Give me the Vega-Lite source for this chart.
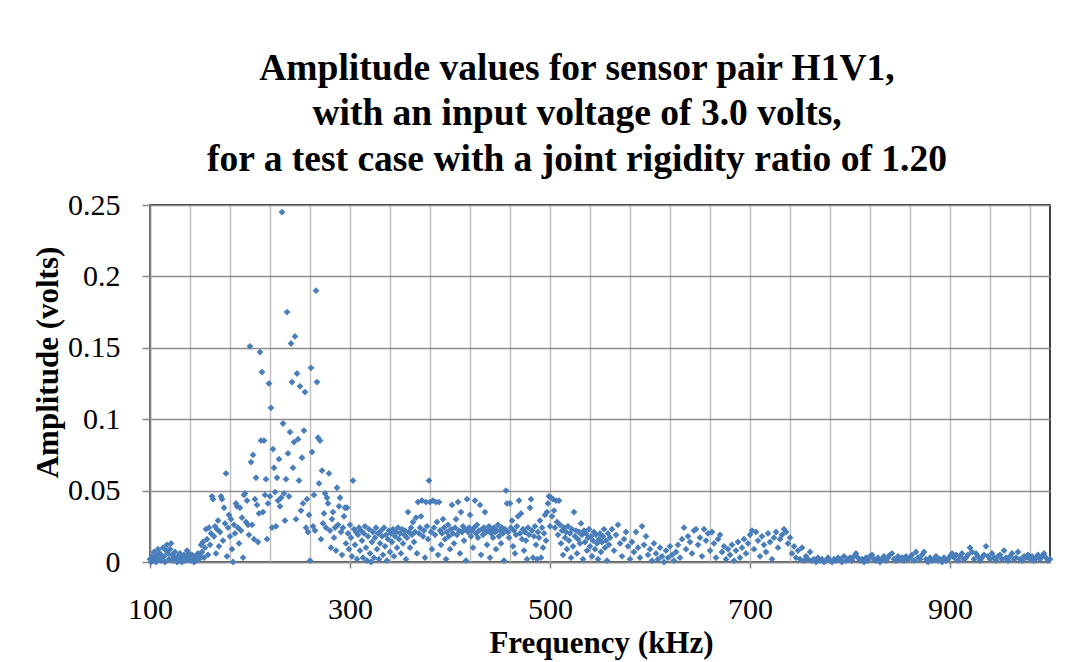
{
  "$schema": "https://vega.github.io/schema/vega-lite/v6.json",
  "autosize": {"type": "none"},
  "width": 900,
  "height": 357,
  "padding": {"left": 150, "top": 205, "right": 42, "bottom": 100},
  "background": "#ffffff",
  "config": {
    "font": "Liberation Serif",
    "view": {"stroke": "#000000", "strokeWidth": 1.5}
  },
  "title": {
    "text": ["Amplitude values for sensor pair H1V1,", "with an input voltage of 3.0 volts,", "for a test case with a joint rigidity ratio of 1.20"],
    "font": "Liberation Serif",
    "fontSize": 37.5,
    "fontWeight": "bold",
    "color": "#000000",
    "lineHeight": 45.5,
    "anchor": "middle",
    "frame": "group",
    "dx": -23,
    "offset": 12
  },
  "data": {"values": [
{"frequency":100,"amplitude":0.002},{"frequency":101,"amplitude":0.000},{"frequency":102,"amplitude":0.004},{"frequency":103,"amplitude":0.001},{"frequency":104,"amplitude":0.007},{"frequency":105,"amplitude":0.003},{"frequency":106,"amplitude":0.000},{"frequency":107,"amplitude":0.005},{"frequency":108,"amplitude":0.009},{"frequency":109,"amplitude":0.002},
{"frequency":110,"amplitude":0.006},{"frequency":111,"amplitude":0.001},{"frequency":112,"amplitude":0.003},{"frequency":113,"amplitude":0.010},{"frequency":114,"amplitude":0.004},{"frequency":115,"amplitude":0.000},{"frequency":116,"amplitude":0.008},{"frequency":117,"amplitude":0.012},{"frequency":118,"amplitude":0.006},{"frequency":119,"amplitude":0.002},
{"frequency":120,"amplitude":0.009},{"frequency":121,"amplitude":0.013},{"frequency":122,"amplitude":0.005},{"frequency":123,"amplitude":0.001},{"frequency":124,"amplitude":0.003},{"frequency":125,"amplitude":0.007},{"frequency":126,"amplitude":0.002},{"frequency":127,"amplitude":0.000},{"frequency":128,"amplitude":0.004},{"frequency":129,"amplitude":0.001},
{"frequency":130,"amplitude":0.006},{"frequency":131,"amplitude":0.003},{"frequency":132,"amplitude":0.000},{"frequency":133,"amplitude":0.002},{"frequency":134,"amplitude":0.005},{"frequency":135,"amplitude":0.001},{"frequency":136,"amplitude":0.004},{"frequency":137,"amplitude":0.008},{"frequency":138,"amplitude":0.002},{"frequency":139,"amplitude":0.006},
{"frequency":140,"amplitude":0.003},{"frequency":141,"amplitude":0.001},{"frequency":142,"amplitude":0.005},{"frequency":143,"amplitude":0.002},{"frequency":144,"amplitude":0.000},{"frequency":145,"amplitude":0.004},{"frequency":146,"amplitude":0.001},{"frequency":147,"amplitude":0.003},{"frequency":148,"amplitude":0.006},{"frequency":149,"amplitude":0.002},
{"frequency":150,"amplitude":0.004},{"frequency":151,"amplitude":0.012},{"frequency":152,"amplitude":0.007},{"frequency":153,"amplitude":0.014},{"frequency":154,"amplitude":0.003},{"frequency":155,"amplitude":0.010},{"frequency":156,"amplitude":0.023},{"frequency":157,"amplitude":0.016},{"frequency":158,"amplitude":0.005},{"frequency":159,"amplitude":0.024},
{"frequency":160,"amplitude":0.012},{"frequency":161,"amplitude":0.020},{"frequency":162,"amplitude":0.046},{"frequency":163,"amplitude":0.044},{"frequency":164,"amplitude":0.018},{"frequency":165,"amplitude":0.025},{"frequency":166,"amplitude":0.006},{"frequency":167,"amplitude":0.023},{"frequency":168,"amplitude":0.029},{"frequency":169,"amplitude":0.011},
{"frequency":170,"amplitude":0.021},{"frequency":171,"amplitude":0.046},{"frequency":172,"amplitude":0.044},{"frequency":173,"amplitude":0.015},{"frequency":174,"amplitude":0.038},{"frequency":175,"amplitude":0.027},{"frequency":176,"amplitude":0.062},{"frequency":177,"amplitude":0.004},{"frequency":178,"amplitude":0.024},{"frequency":179,"amplitude":0.033},
{"frequency":180,"amplitude":0.018},{"frequency":181,"amplitude":0.030},{"frequency":182,"amplitude":0.009},{"frequency":183,"amplitude":0.000},{"frequency":184,"amplitude":0.026},{"frequency":185,"amplitude":0.020},{"frequency":186,"amplitude":0.041},{"frequency":187,"amplitude":0.039},{"frequency":188,"amplitude":0.024},{"frequency":189,"amplitude":0.013},
{"frequency":190,"amplitude":0.038},{"frequency":191,"amplitude":0.022},{"frequency":192,"amplitude":0.031},{"frequency":193,"amplitude":0.003},{"frequency":194,"amplitude":0.047},{"frequency":195,"amplitude":0.048},{"frequency":196,"amplitude":0.028},{"frequency":197,"amplitude":0.043},{"frequency":198,"amplitude":0.026},{"frequency":199,"amplitude":0.019},
{"frequency":200,"amplitude":0.151},{"frequency":201,"amplitude":0.070},{"frequency":202,"amplitude":0.026},{"frequency":203,"amplitude":0.075},{"frequency":204,"amplitude":0.016},{"frequency":205,"amplitude":0.044},{"frequency":206,"amplitude":0.059},{"frequency":207,"amplitude":0.040},{"frequency":208,"amplitude":0.014},{"frequency":209,"amplitude":0.034},
{"frequency":210,"amplitude":0.147},{"frequency":211,"amplitude":0.085},{"frequency":212,"amplitude":0.133},{"frequency":213,"amplitude":0.035},{"frequency":214,"amplitude":0.085},{"frequency":215,"amplitude":0.047},{"frequency":216,"amplitude":0.058},{"frequency":217,"amplitude":0.016},{"frequency":218,"amplitude":0.041},{"frequency":219,"amplitude":0.125},
{"frequency":220,"amplitude":0.046},{"frequency":221,"amplitude":0.108},{"frequency":222,"amplitude":0.024},{"frequency":223,"amplitude":0.079},{"frequency":224,"amplitude":0.066},{"frequency":225,"amplitude":0.049},{"frequency":226,"amplitude":0.025},{"frequency":227,"amplitude":0.059},{"frequency":228,"amplitude":0.043},{"frequency":229,"amplitude":0.072},
{"frequency":230,"amplitude":0.039},{"frequency":231,"amplitude":0.045},{"frequency":232,"amplitude":0.245},{"frequency":233,"amplitude":0.097},{"frequency":234,"amplitude":0.048},{"frequency":235,"amplitude":0.029},{"frequency":236,"amplitude":0.058},{"frequency":237,"amplitude":0.175},{"frequency":238,"amplitude":0.076},{"frequency":239,"amplitude":0.046},
{"frequency":240,"amplitude":0.091},{"frequency":241,"amplitude":0.153},{"frequency":242,"amplitude":0.126},{"frequency":243,"amplitude":0.066},{"frequency":244,"amplitude":0.084},{"frequency":245,"amplitude":0.158},{"frequency":246,"amplitude":0.030},{"frequency":247,"amplitude":0.132},{"frequency":248,"amplitude":0.086},{"frequency":249,"amplitude":0.057},
{"frequency":250,"amplitude":0.123},{"frequency":251,"amplitude":0.036},{"frequency":252,"amplitude":0.073},{"frequency":253,"amplitude":0.041},{"frequency":254,"amplitude":0.092},{"frequency":255,"amplitude":0.119},{"frequency":256,"amplitude":0.024},{"frequency":257,"amplitude":0.044},{"frequency":258,"amplitude":0.021},{"frequency":259,"amplitude":0.033},
{"frequency":260,"amplitude":0.001},{"frequency":261,"amplitude":0.136},{"frequency":262,"amplitude":0.077},{"frequency":263,"amplitude":0.025},{"frequency":264,"amplitude":0.047},{"frequency":265,"amplitude":0.022},{"frequency":266,"amplitude":0.190},{"frequency":267,"amplitude":0.126},{"frequency":268,"amplitude":0.087},{"frequency":269,"amplitude":0.055},
{"frequency":270,"amplitude":0.085},{"frequency":271,"amplitude":0.016},{"frequency":272,"amplitude":0.064},{"frequency":273,"amplitude":0.027},{"frequency":274,"amplitude":0.034},{"frequency":275,"amplitude":0.048},{"frequency":276,"amplitude":0.024},{"frequency":277,"amplitude":0.045},{"frequency":278,"amplitude":0.041},{"frequency":279,"amplitude":0.062},
{"frequency":280,"amplitude":0.022},{"frequency":281,"amplitude":0.010},{"frequency":282,"amplitude":0.030},{"frequency":283,"amplitude":0.035},{"frequency":284,"amplitude":0.017},{"frequency":285,"amplitude":0.024},{"frequency":286,"amplitude":0.008},{"frequency":287,"amplitude":0.052},{"frequency":288,"amplitude":0.026},{"frequency":289,"amplitude":0.039},
{"frequency":290,"amplitude":0.045},{"frequency":291,"amplitude":0.021},{"frequency":292,"amplitude":0.005},{"frequency":293,"amplitude":0.024},{"frequency":294,"amplitude":0.032},{"frequency":295,"amplitude":0.038},{"frequency":296,"amplitude":0.013},{"frequency":297,"amplitude":0.038},{"frequency":298,"amplitude":0.020},{"frequency":299,"amplitude":0.009},
{"frequency":300,"amplitude":0.026},{"frequency":301,"amplitude":0.017},{"frequency":302,"amplitude":0.004},{"frequency":303,"amplitude":0.057},{"frequency":304,"amplitude":0.023},{"frequency":305,"amplitude":0.012},{"frequency":306,"amplitude":0.021},{"frequency":307,"amplitude":0.002},{"frequency":308,"amplitude":0.019},{"frequency":309,"amplitude":0.024},
{"frequency":310,"amplitude":0.008},{"frequency":311,"amplitude":0.022},{"frequency":312,"amplitude":0.015},{"frequency":313,"amplitude":0.003},{"frequency":314,"amplitude":0.020},{"frequency":315,"amplitude":0.025},{"frequency":316,"amplitude":0.010},{"frequency":317,"amplitude":0.001},{"frequency":318,"amplitude":0.018},{"frequency":319,"amplitude":0.023},
{"frequency":320,"amplitude":0.006},{"frequency":321,"amplitude":0.000},{"frequency":322,"amplitude":0.014},{"frequency":323,"amplitude":0.021},{"frequency":324,"amplitude":0.003},{"frequency":325,"amplitude":0.017},{"frequency":326,"amplitude":0.024},{"frequency":327,"amplitude":0.009},{"frequency":328,"amplitude":0.020},{"frequency":329,"amplitude":0.002},
{"frequency":330,"amplitude":0.013},{"frequency":331,"amplitude":0.022},{"frequency":332,"amplitude":0.018},{"frequency":333,"amplitude":0.005},{"frequency":334,"amplitude":0.024},{"frequency":335,"amplitude":0.011},{"frequency":336,"amplitude":0.019},{"frequency":337,"amplitude":0.001},{"frequency":338,"amplitude":0.016},{"frequency":339,"amplitude":0.022},
{"frequency":340,"amplitude":0.007},{"frequency":341,"amplitude":0.020},{"frequency":342,"amplitude":0.014},{"frequency":343,"amplitude":0.023},{"frequency":344,"amplitude":0.004},{"frequency":345,"amplitude":0.018},{"frequency":346,"amplitude":0.021},{"frequency":347,"amplitude":0.010},{"frequency":348,"amplitude":0.024},{"frequency":349,"amplitude":0.016},
{"frequency":350,"amplitude":0.020},{"frequency":351,"amplitude":0.006},{"frequency":352,"amplitude":0.023},{"frequency":353,"amplitude":0.013},{"frequency":354,"amplitude":0.019},{"frequency":355,"amplitude":0.022},{"frequency":356,"amplitude":0.002},{"frequency":357,"amplitude":0.017},{"frequency":358,"amplitude":0.035},{"frequency":359,"amplitude":0.021},
{"frequency":360,"amplitude":0.010},{"frequency":361,"amplitude":0.024},{"frequency":362,"amplitude":0.019},{"frequency":363,"amplitude":0.028},{"frequency":364,"amplitude":0.014},{"frequency":365,"amplitude":0.021},{"frequency":366,"amplitude":0.031},{"frequency":367,"amplitude":0.006},{"frequency":368,"amplitude":0.042},{"frequency":369,"amplitude":0.020},
{"frequency":370,"amplitude":0.024},{"frequency":371,"amplitude":0.032},{"frequency":372,"amplitude":0.043},{"frequency":373,"amplitude":0.018},{"frequency":374,"amplitude":0.022},{"frequency":375,"amplitude":0.003},{"frequency":376,"amplitude":0.042},{"frequency":377,"amplitude":0.025},{"frequency":378,"amplitude":0.016},{"frequency":379,"amplitude":0.057},
{"frequency":380,"amplitude":0.042},{"frequency":381,"amplitude":0.021},{"frequency":382,"amplitude":0.009},{"frequency":383,"amplitude":0.043},{"frequency":384,"amplitude":0.024},{"frequency":385,"amplitude":0.019},{"frequency":386,"amplitude":0.042},{"frequency":387,"amplitude":0.028},{"frequency":388,"amplitude":0.005},{"frequency":389,"amplitude":0.042},
{"frequency":390,"amplitude":0.022},{"frequency":391,"amplitude":0.012},{"frequency":392,"amplitude":0.020},{"frequency":393,"amplitude":0.030},{"frequency":394,"amplitude":0.024},{"frequency":395,"amplitude":0.016},{"frequency":396,"amplitude":0.002},{"frequency":397,"amplitude":0.021},{"frequency":398,"amplitude":0.026},{"frequency":399,"amplitude":0.018},
{"frequency":400,"amplitude":0.009},{"frequency":401,"amplitude":0.023},{"frequency":402,"amplitude":0.040},{"frequency":403,"amplitude":0.020},{"frequency":404,"amplitude":0.013},{"frequency":405,"amplitude":0.024},{"frequency":406,"amplitude":0.030},{"frequency":407,"amplitude":0.019},{"frequency":408,"amplitude":0.042},{"frequency":409,"amplitude":0.022},
{"frequency":410,"amplitude":0.006},{"frequency":411,"amplitude":0.035},{"frequency":412,"amplitude":0.021},{"frequency":413,"amplitude":0.025},{"frequency":414,"amplitude":0.015},{"frequency":415,"amplitude":0.023},{"frequency":416,"amplitude":0.001},{"frequency":417,"amplitude":0.044},{"frequency":418,"amplitude":0.021},{"frequency":419,"amplitude":0.024},
{"frequency":420,"amplitude":0.033},{"frequency":421,"amplitude":0.018},{"frequency":422,"amplitude":0.022},{"frequency":423,"amplitude":0.010},{"frequency":424,"amplitude":0.024},{"frequency":425,"amplitude":0.043},{"frequency":426,"amplitude":0.020},{"frequency":427,"amplitude":0.026},{"frequency":428,"amplitude":0.017},{"frequency":429,"amplitude":0.022},
{"frequency":430,"amplitude":0.040},{"frequency":431,"amplitude":0.005},{"frequency":432,"amplitude":0.023},{"frequency":433,"amplitude":0.019},{"frequency":434,"amplitude":0.024},{"frequency":435,"amplitude":0.035},{"frequency":436,"amplitude":0.021},{"frequency":437,"amplitude":0.012},{"frequency":438,"amplitude":0.022},{"frequency":439,"amplitude":0.025},
{"frequency":440,"amplitude":0.003},{"frequency":441,"amplitude":0.020},{"frequency":442,"amplitude":0.023},{"frequency":443,"amplitude":0.017},{"frequency":444,"amplitude":0.024},{"frequency":445,"amplitude":0.021},{"frequency":446,"amplitude":0.009},{"frequency":447,"amplitude":0.022},{"frequency":448,"amplitude":0.026},{"frequency":449,"amplitude":0.018},
{"frequency":450,"amplitude":0.022},{"frequency":451,"amplitude":0.013},{"frequency":452,"amplitude":0.024},{"frequency":453,"amplitude":0.020},{"frequency":454,"amplitude":0.001},{"frequency":455,"amplitude":0.023},{"frequency":456,"amplitude":0.050},{"frequency":457,"amplitude":0.041},{"frequency":458,"amplitude":0.021},{"frequency":459,"amplitude":0.017},
{"frequency":460,"amplitude":0.041},{"frequency":461,"amplitude":0.024},{"frequency":462,"amplitude":0.029},{"frequency":463,"amplitude":0.011},{"frequency":464,"amplitude":0.022},{"frequency":465,"amplitude":0.006},{"frequency":466,"amplitude":0.019},{"frequency":467,"amplitude":0.025},{"frequency":468,"amplitude":0.032},{"frequency":469,"amplitude":0.043},
{"frequency":470,"amplitude":0.020},{"frequency":471,"amplitude":0.034},{"frequency":472,"amplitude":0.016},{"frequency":473,"amplitude":0.023},{"frequency":474,"amplitude":0.008},{"frequency":475,"amplitude":0.021},{"frequency":476,"amplitude":0.015},{"frequency":477,"amplitude":0.002},{"frequency":478,"amplitude":0.024},{"frequency":479,"amplitude":0.019},
{"frequency":480,"amplitude":0.038},{"frequency":481,"amplitude":0.044},{"frequency":482,"amplitude":0.022},{"frequency":483,"amplitude":0.003},{"frequency":484,"amplitude":0.018},{"frequency":485,"amplitude":0.025},{"frequency":486,"amplitude":0.012},{"frequency":487,"amplitude":0.002},{"frequency":488,"amplitude":0.021},{"frequency":489,"amplitude":0.017},
{"frequency":490,"amplitude":0.029},{"frequency":491,"amplitude":0.003},{"frequency":492,"amplitude":0.024},{"frequency":493,"amplitude":0.010},{"frequency":494,"amplitude":0.020},{"frequency":495,"amplitude":0.033},{"frequency":496,"amplitude":0.015},{"frequency":497,"amplitude":0.035},{"frequency":498,"amplitude":0.041},{"frequency":499,"amplitude":0.046},
{"frequency":500,"amplitude":0.025},{"frequency":501,"amplitude":0.045},{"frequency":502,"amplitude":0.032},{"frequency":503,"amplitude":0.044},{"frequency":504,"amplitude":0.036},{"frequency":505,"amplitude":0.024},{"frequency":506,"amplitude":0.043},{"frequency":507,"amplitude":0.028},{"frequency":508,"amplitude":0.019},{"frequency":509,"amplitude":0.043},
{"frequency":510,"amplitude":0.026},{"frequency":511,"amplitude":0.013},{"frequency":512,"amplitude":0.022},{"frequency":513,"amplitude":0.005},{"frequency":514,"amplitude":0.024},{"frequency":515,"amplitude":0.017},{"frequency":516,"amplitude":0.021},{"frequency":517,"amplitude":0.009},{"frequency":518,"amplitude":0.025},{"frequency":519,"amplitude":0.015},
{"frequency":520,"amplitude":0.020},{"frequency":521,"amplitude":0.003},{"frequency":522,"amplitude":0.023},{"frequency":523,"amplitude":0.011},{"frequency":524,"amplitude":0.035},{"frequency":525,"amplitude":0.018},{"frequency":526,"amplitude":0.022},{"frequency":527,"amplitude":0.006},{"frequency":528,"amplitude":0.016},{"frequency":529,"amplitude":0.021},
{"frequency":530,"amplitude":0.013},{"frequency":531,"amplitude":0.027},{"frequency":532,"amplitude":0.019},{"frequency":533,"amplitude":0.002},{"frequency":534,"amplitude":0.022},{"frequency":535,"amplitude":0.014},{"frequency":536,"amplitude":0.020},{"frequency":537,"amplitude":0.008},{"frequency":538,"amplitude":0.017},{"frequency":539,"amplitude":0.023},
{"frequency":540,"amplitude":0.011},{"frequency":541,"amplitude":0.018},{"frequency":542,"amplitude":0.004},{"frequency":543,"amplitude":0.015},{"frequency":544,"amplitude":0.021},{"frequency":545,"amplitude":0.009},{"frequency":546,"amplitude":0.019},{"frequency":547,"amplitude":0.013},{"frequency":548,"amplitude":0.002},{"frequency":549,"amplitude":0.016},
{"frequency":550,"amplitude":0.020},{"frequency":551,"amplitude":0.007},{"frequency":552,"amplitude":0.014},{"frequency":553,"amplitude":0.018},{"frequency":554,"amplitude":0.023},{"frequency":555,"amplitude":0.010},{"frequency":556,"amplitude":0.015},{"frequency":557,"amplitude":0.001},{"frequency":558,"amplitude":0.020},{"frequency":559,"amplitude":0.012},
{"frequency":560,"amplitude":0.017},{"frequency":562,"amplitude":0.023},{"frequency":564,"amplitude":0.008},{"frequency":566,"amplitude":0.019},{"frequency":568,"amplitude":0.026},{"frequency":570,"amplitude":0.013},{"frequency":572,"amplitude":0.004},{"frequency":574,"amplitude":0.016},{"frequency":576,"amplitude":0.021},{"frequency":578,"amplitude":0.011},
{"frequency":580,"amplitude":0.002},{"frequency":582,"amplitude":0.014},{"frequency":584,"amplitude":0.007},{"frequency":586,"amplitude":0.021},{"frequency":588,"amplitude":0.010},{"frequency":590,"amplitude":0.003},{"frequency":592,"amplitude":0.025},{"frequency":594,"amplitude":0.012},{"frequency":596,"amplitude":0.018},{"frequency":598,"amplitude":0.005},
{"frequency":600,"amplitude":0.009},{"frequency":602,"amplitude":0.001},{"frequency":604,"amplitude":0.013},{"frequency":606,"amplitude":0.006},{"frequency":608,"amplitude":0.002},{"frequency":610,"amplitude":0.010},{"frequency":612,"amplitude":0.004},{"frequency":614,"amplitude":0.000},{"frequency":616,"amplitude":0.008},{"frequency":618,"amplitude":0.003},
{"frequency":620,"amplitude":0.011},{"frequency":622,"amplitude":0.005},{"frequency":624,"amplitude":0.001},{"frequency":626,"amplitude":0.007},{"frequency":628,"amplitude":0.012},{"frequency":630,"amplitude":0.003},{"frequency":632,"amplitude":0.016},{"frequency":634,"amplitude":0.024},{"frequency":636,"amplitude":0.009},{"frequency":638,"amplitude":0.018},
{"frequency":640,"amplitude":0.014},{"frequency":642,"amplitude":0.006},{"frequency":644,"amplitude":0.022},{"frequency":646,"amplitude":0.023},{"frequency":648,"amplitude":0.012},{"frequency":650,"amplitude":0.017},{"frequency":652,"amplitude":0.004},{"frequency":654,"amplitude":0.023},{"frequency":656,"amplitude":0.015},{"frequency":658,"amplitude":0.020},
{"frequency":660,"amplitude":0.008},{"frequency":662,"amplitude":0.021},{"frequency":664,"amplitude":0.013},{"frequency":666,"amplitude":0.003},{"frequency":668,"amplitude":0.016},{"frequency":670,"amplitude":0.019},{"frequency":672,"amplitude":0.007},{"frequency":674,"amplitude":0.011},{"frequency":676,"amplitude":0.002},{"frequency":678,"amplitude":0.009},
{"frequency":680,"amplitude":0.005},{"frequency":682,"amplitude":0.012},{"frequency":684,"amplitude":0.001},{"frequency":686,"amplitude":0.008},{"frequency":688,"amplitude":0.014},{"frequency":690,"amplitude":0.003},{"frequency":692,"amplitude":0.010},{"frequency":694,"amplitude":0.016},{"frequency":696,"amplitude":0.006},{"frequency":698,"amplitude":0.013},
{"frequency":700,"amplitude":0.019},{"frequency":702,"amplitude":0.022},{"frequency":704,"amplitude":0.009},{"frequency":706,"amplitude":0.021},{"frequency":708,"amplitude":0.015},{"frequency":710,"amplitude":0.004},{"frequency":712,"amplitude":0.018},{"frequency":714,"amplitude":0.012},{"frequency":716,"amplitude":0.007},{"frequency":718,"amplitude":0.020},
{"frequency":720,"amplitude":0.014},{"frequency":722,"amplitude":0.002},{"frequency":724,"amplitude":0.017},{"frequency":726,"amplitude":0.021},{"frequency":728,"amplitude":0.010},{"frequency":730,"amplitude":0.016},{"frequency":732,"amplitude":0.019},{"frequency":734,"amplitude":0.023},{"frequency":736,"amplitude":0.021},{"frequency":738,"amplitude":0.013},
{"frequency":740,"amplitude":0.017},{"frequency":742,"amplitude":0.006},{"frequency":744,"amplitude":0.011},{"frequency":746,"amplitude":0.003},{"frequency":748,"amplitude":0.008},{"frequency":750,"amplitude":0.002},{"frequency":752,"amplitude":0.010},{"frequency":754,"amplitude":0.001},{"frequency":756,"amplitude":0.004},{"frequency":758,"amplitude":0.002},
{"frequency":760,"amplitude":0.007},{"frequency":762,"amplitude":0.001},{"frequency":764,"amplitude":0.002},{"frequency":766,"amplitude":0.000},{"frequency":768,"amplitude":0.003},{"frequency":770,"amplitude":0.001},{"frequency":772,"amplitude":0.002},{"frequency":774,"amplitude":0.000},{"frequency":776,"amplitude":0.001},{"frequency":778,"amplitude":0.003},
{"frequency":780,"amplitude":0.001},{"frequency":782,"amplitude":0.000},{"frequency":784,"amplitude":0.002},{"frequency":786,"amplitude":0.001},{"frequency":788,"amplitude":0.003},{"frequency":790,"amplitude":0.002},{"frequency":792,"amplitude":0.000},{"frequency":794,"amplitude":0.004},{"frequency":796,"amplitude":0.001},{"frequency":798,"amplitude":0.002},
{"frequency":800,"amplitude":0.003},{"frequency":802,"amplitude":0.001},{"frequency":804,"amplitude":0.004},{"frequency":806,"amplitude":0.006},{"frequency":808,"amplitude":0.003},{"frequency":810,"amplitude":0.001},{"frequency":812,"amplitude":0.002},{"frequency":814,"amplitude":0.000},{"frequency":816,"amplitude":0.003},{"frequency":818,"amplitude":0.001},
{"frequency":820,"amplitude":0.004},{"frequency":822,"amplitude":0.005},{"frequency":824,"amplitude":0.002},{"frequency":826,"amplitude":0.001},{"frequency":828,"amplitude":0.003},{"frequency":830,"amplitude":0.000},{"frequency":832,"amplitude":0.002},{"frequency":834,"amplitude":0.004},{"frequency":836,"amplitude":0.001},{"frequency":838,"amplitude":0.003},
{"frequency":840,"amplitude":0.005},{"frequency":842,"amplitude":0.006},{"frequency":844,"amplitude":0.002},{"frequency":846,"amplitude":0.001},{"frequency":848,"amplitude":0.004},{"frequency":850,"amplitude":0.002},{"frequency":852,"amplitude":0.003},{"frequency":854,"amplitude":0.001},{"frequency":856,"amplitude":0.004},{"frequency":858,"amplitude":0.002},
{"frequency":860,"amplitude":0.003},{"frequency":862,"amplitude":0.005},{"frequency":864,"amplitude":0.001},{"frequency":866,"amplitude":0.007},{"frequency":868,"amplitude":0.003},{"frequency":870,"amplitude":0.002},{"frequency":872,"amplitude":0.005},{"frequency":874,"amplitude":0.007},{"frequency":876,"amplitude":0.002},{"frequency":878,"amplitude":0.000},
{"frequency":880,"amplitude":0.003},{"frequency":882,"amplitude":0.001},{"frequency":884,"amplitude":0.002},{"frequency":886,"amplitude":0.004},{"frequency":888,"amplitude":0.001},{"frequency":890,"amplitude":0.002},{"frequency":892,"amplitude":0.000},{"frequency":894,"amplitude":0.003},{"frequency":896,"amplitude":0.001},{"frequency":898,"amplitude":0.002},
{"frequency":900,"amplitude":0.004},{"frequency":902,"amplitude":0.006},{"frequency":904,"amplitude":0.003},{"frequency":906,"amplitude":0.005},{"frequency":908,"amplitude":0.001},{"frequency":910,"amplitude":0.004},{"frequency":912,"amplitude":0.006},{"frequency":914,"amplitude":0.002},{"frequency":916,"amplitude":0.003},{"frequency":918,"amplitude":0.005},
{"frequency":920,"amplitude":0.010},{"frequency":922,"amplitude":0.007},{"frequency":924,"amplitude":0.002},{"frequency":926,"amplitude":0.006},{"frequency":928,"amplitude":0.004},{"frequency":930,"amplitude":0.001},{"frequency":932,"amplitude":0.003},{"frequency":934,"amplitude":0.005},{"frequency":936,"amplitude":0.011},{"frequency":938,"amplitude":0.004},
{"frequency":940,"amplitude":0.002},{"frequency":942,"amplitude":0.006},{"frequency":944,"amplitude":0.003},{"frequency":946,"amplitude":0.001},{"frequency":948,"amplitude":0.004},{"frequency":950,"amplitude":0.005},{"frequency":952,"amplitude":0.002},{"frequency":954,"amplitude":0.008},{"frequency":956,"amplitude":0.003},{"frequency":958,"amplitude":0.001},
{"frequency":960,"amplitude":0.004},{"frequency":962,"amplitude":0.006},{"frequency":964,"amplitude":0.002},{"frequency":966,"amplitude":0.003},{"frequency":968,"amplitude":0.007},{"frequency":970,"amplitude":0.002},{"frequency":972,"amplitude":0.001},{"frequency":974,"amplitude":0.004},{"frequency":976,"amplitude":0.003},{"frequency":978,"amplitude":0.005},
{"frequency":980,"amplitude":0.002},{"frequency":982,"amplitude":0.004},{"frequency":984,"amplitude":0.001},{"frequency":986,"amplitude":0.003},{"frequency":988,"amplitude":0.005},{"frequency":990,"amplitude":0.002},{"frequency":992,"amplitude":0.004},{"frequency":994,"amplitude":0.006},{"frequency":996,"amplitude":0.003},{"frequency":998,"amplitude":0.001},
{"frequency":1000,"amplitude":0.002}
  ]},
  "mark": {"type": "point", "shape": "diamond", "filled": true, "size": 46, "color": "#4A7EBB", "opacity": 1, "clip": false},
  "encoding": {
    "x": {
      "field": "frequency",
      "type": "quantitative",
      "scale": {"domain": [100, 1000], "nice": false, "zero": false},
      "axis": {
        "title": "Frequency (kHz)",
        "values": [100, 140, 180, 220, 260, 300, 340, 380, 420, 460, 500, 540, 580, 620, 660, 700, 740, 780, 820, 860, 900, 940, 980],
        "format": "d",
        "labelExpr": "(datum.value - 100) % 200 == 0 ? datum.label : ''",
        "grid": true,
        "gridColor": "#BFBFBF",
        "gridWidth": 1.5,
        "domainColor": "#868686",
        "domainWidth": 1.5,
        "tickColor": "#868686",
        "tickWidth": 1.5,
        "tickSize": 6,
        "tickOpacity": {"condition": {"test": "(datum.value - 100) % 200 == 0", "value": 1}, "value": 0},
        "labelFont": "Liberation Serif",
        "labelFontSize": 30,
        "labelColor": "#000000",
        "labelBaseline": "alphabetic",
        "labelPadding": 50,
        "labelOverlap": false,
        "labelFlush": false,
        "titleFont": "Liberation Serif",
        "titleFontSize": 31,
        "titleFontWeight": "bold",
        "titleColor": "#000000",
        "titleBaseline": "alphabetic",
        "titleX": 451,
        "titleY": 90
      }
    },
    "y": {
      "field": "amplitude",
      "type": "quantitative",
      "scale": {"domain": [0, 0.25], "nice": false},
      "axis": {
        "title": "Amplitude (volts)",
        "values": [0, 0.05, 0.1, 0.15, 0.2, 0.25],
        "format": "~g",
        "grid": true,
        "gridColor": "#8C8C8C",
        "gridWidth": 1.5,
        "domainColor": "#868686",
        "domainWidth": 1.5,
        "tickColor": "#868686",
        "tickWidth": 1.5,
        "tickSize": 8,
        "labelFont": "Liberation Serif",
        "labelFontSize": 30,
        "labelColor": "#000000",
        "labelPadding": 22,
        "labelOverlap": false,
        "labelFlush": false,
        "titleFont": "Liberation Serif",
        "titleFontSize": 31,
        "titleFontWeight": "bold",
        "titleColor": "#000000",
        "titleAngle": -90,
        "titleBaseline": "alphabetic",
        "titleAlign": "center",
        "titleX": -93,
        "titleY": 157
      }
    }
  }
}
